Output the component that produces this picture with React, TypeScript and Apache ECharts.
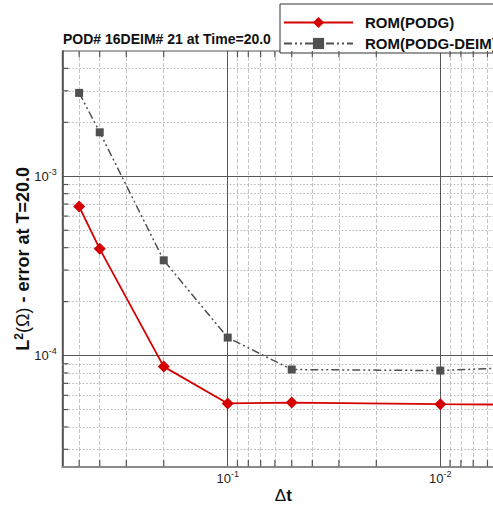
import React, { useEffect, useRef } from 'react';
import * as echarts from 'echarts';

// ---- data ----
const dtValues = [0.5, 0.4, 0.2, 0.1, 0.05, 0.01, 0.005];
const romPodg = [6.78e-4, 3.94e-4, 8.68e-5, 5.41e-5, 5.47e-5, 5.36e-5, 5.33e-5];
const romPodgDeim = [2.92e-3, 1.76e-3, 3.4e-4, 1.26e-4, 8.36e-5, 8.25e-5, 8.54e-5];
const seriesNames = ['ROM(PODG)', 'ROM(PODG-DEIM)'];
const xRange = [0.005, 0.6];
const yRange = [2.4e-5, 5e-3];
const xMajor = [0.1, 0.01];
const xMajorExp = ['-1', '-2'];
const xMinor = [0.5, 0.4, 0.3, 0.2, 0.09, 0.08, 0.07, 0.06, 0.05, 0.04, 0.03, 0.02, 0.009, 0.008, 0.007, 0.006];
const yMajor = [1e-3, 1e-4];
const yMajorExp = ['-3', '-4'];
const yMinor = [4e-3, 3e-3, 2e-3, 9e-4, 8e-4, 7e-4, 6e-4, 5e-4, 4e-4, 3e-4, 2e-4, 9e-5, 8e-5, 7e-5, 6e-5, 5e-5, 4e-5, 3e-5];
const titleText = 'POD# 16DEIM# 21 at Time=20.0';
const xTitle = '{d|Δ}{t|t}';
const yTitle = '{a|L}{s|2}{b|(Ω)}{a| - error at T=20.0}';

const FONT = '"Liberation Sans", Arial, Helvetica, sans-serif';
const RED = '#d40000';
const GRAY = '#505050';

const tickRich = {
  base: { fontSize: 13, lineHeight: 18, color: '#222', fontFamily: FONT },
  sup: { fontSize: 9, lineHeight: 8, verticalAlign: 'top', color: '#222', fontFamily: FONT },
};

const majorStyle = { color: '#555', width: 1, type: 'solid' };
const vMinorStyle = { color: '#c4c4c4', width: 1, type: [4, 2] };
const hMinorStyle = { color: '#b4b4b4', width: 1, type: [1.5, 2] };

function vLine(x: number, style: any, label?: any) {
  return [
    { coord: [x, yRange[1]], lineStyle: style, label: label || { show: false } },
    { coord: [x, yRange[0]] },
  ];
}
function hLine(y: number, style: any, label?: any) {
  return [
    { coord: [xRange[0], y], lineStyle: style, label: label || { show: false } },
    { coord: [xRange[1], y] },
  ];
}

export default function App() {
  const ref = useRef<HTMLDivElement>(null);
  useEffect(() => {
    if (!ref.current) return;
    const chart = echarts.init(ref.current, null, { renderer: 'svg' });

    const gridLines: any[] = [];
    xMinor.forEach((v) => gridLines.push(vLine(v, vMinorStyle)));
    yMinor.forEach((v) => gridLines.push(hLine(v, hMinorStyle)));
    xMajor.forEach((v, i) =>
      gridLines.push(
        vLine(v, majorStyle, {
          show: true,
          position: 'end',
          distance: 2.5,
          formatter: `{base|10}{sup|${xMajorExp[i]}}`,
          rich: tickRich,
        })
      )
    );
    yMajor.forEach((v, i) =>
      gridLines.push(
        hLine(v, majorStyle, {
          show: true,
          position: 'end',
          distance: 5.5,
          formatter: `{base|10}{sup|${yMajorExp[i]}}`,
          rich: tickRich,
        })
      )
    );

    const ticks: any[] = [];
    yMinor.forEach((v) =>
      ticks.push({ coord: [xRange[1], v], symbolSize: [6, 1.2], symbolOffset: [3, 0] })
    );
    xMinor.forEach((v) => {
      ticks.push({ coord: [v, yRange[0]], symbolSize: [1.2, 6.6], symbolOffset: [0, -3.3] });
      ticks.push({ coord: [v, yRange[1]], symbolSize: [1.2, 6], symbolOffset: [0, 3] });
    });

    chart.setOption({
      animation: false,
      backgroundColor: '#fff',
      textStyle: { fontFamily: FONT },
      title: {
        text: titleText,
        left: 63,
        top: 32,
        padding: 0,
        textStyle: { fontSize: 14, fontWeight: 'bold', color: '#111', fontFamily: FONT },
      },
      legend: {
        data: seriesNames,
        orient: 'vertical',
        left: 280,
        top: 4,
        padding: [11, 30, 2, 3],
        itemWidth: 69,
        itemHeight: 14,
        itemGap: 6,
        borderColor: '#333',
        borderWidth: 1,
        borderRadius: 0,
        backgroundColor: '#fff',
        selectedMode: false,
        textStyle: {
          fontSize: 15,
          fontWeight: 'bold',
          color: '#111',
          fontFamily: FONT,
          padding: [0, 0, 0, 7],
          lineHeight: 14,
        },
      },
      grid: {
        left: 62.3,
        top: 51,
        right: 15.7,
        bottom: 38.3,
        show: true,
        borderColor: '#555',
        borderWidth: 1,
        backgroundColor: 'transparent',
        containLabel: false,
        outerBoundsMode: 'none',
      },
      xAxis: {
        type: 'log',
        logBase: 10,
        min: xRange[0],
        max: xRange[1],
        inverse: true,
        name: xTitle,
        nameLocation: 'middle',
        nameGap: 20,
        nameTextStyle: {
          color: '#111',
          rich: {
            d: { fontSize: 17, fontFamily: FONT, color: '#111' },
            t: { fontSize: 17, fontWeight: 'bold', fontFamily: FONT, color: '#111' },
          },
        },
        axisLine: { show: true, onZero: false, lineStyle: { color: '#8a8a8a', width: 2 } },
        axisTick: { show: false },
        axisLabel: { show: false },
        splitLine: { show: false },
        minorTick: { show: false },
        minorSplitLine: { show: false },
      },
      yAxis: {
        type: 'log',
        logBase: 10,
        min: yRange[0],
        max: yRange[1],
        name: yTitle,
        nameLocation: 'middle',
        nameGap: 29,
        nameTextStyle: {
          color: '#111',
          rich: {
            a: { fontSize: 18, fontWeight: 'bold', lineHeight: 20, fontFamily: FONT, color: '#111' },
            s: { fontSize: 12, fontWeight: 'bold', lineHeight: 10, verticalAlign: 'top', fontFamily: FONT, color: '#111' },
            b: { fontSize: 18, lineHeight: 20, fontFamily: FONT, color: '#111' },
          },
        },
        axisLine: { show: true, onZero: false, lineStyle: { color: '#444', width: 1.5 } },
        axisTick: { show: false },
        axisLabel: { show: false },
        splitLine: { show: false },
        minorTick: { show: false },
        minorSplitLine: { show: false },
      },
      series: [
        {
          name: '__grid',
          type: 'line',
          data: [],
          silent: true,
          markLine: {
            z: 1,
            silent: true,
            symbol: ['none', 'none'],
            animation: false,
            label: { show: false },
            emphasis: { disabled: true },
            data: gridLines,
          },
          markPoint: {
            z: 6,
            silent: true,
            symbol: 'rect',
            animation: false,
            label: { show: false },
            itemStyle: { color: '#555' },
            emphasis: { disabled: true },
            data: ticks,
          },
        },
        {
          name: seriesNames[0],
          type: 'line',
          z: 3,
          data: dtValues.map((x, i) => [x, romPodg[i]]),
          symbol: 'diamond',
          symbolSize: 12,
          lineStyle: { color: RED, width: 1.8 },
          itemStyle: { color: RED },
        },
        {
          name: seriesNames[1],
          type: 'line',
          z: 3,
          data: dtValues.map((x, i) => [x, romPodgDeim[i]]),
          symbol: 'rect',
          symbolSize: 8,
          lineStyle: { color: GRAY, width: 1.5, type: [8, 3, 2, 3, 2, 3] },
          itemStyle: { color: GRAY },
        },
      ],
    });
    return () => chart.dispose();
  }, []);

  return (
    <div
      style={{
        position: 'fixed',
        left: 0,
        top: 0,
        width: 493,
        height: 505,
        overflow: 'hidden',
        background: '#fff',
      }}
    >
      <div ref={ref} style={{ width: 520, height: 505 }} />
    </div>
  );
}
